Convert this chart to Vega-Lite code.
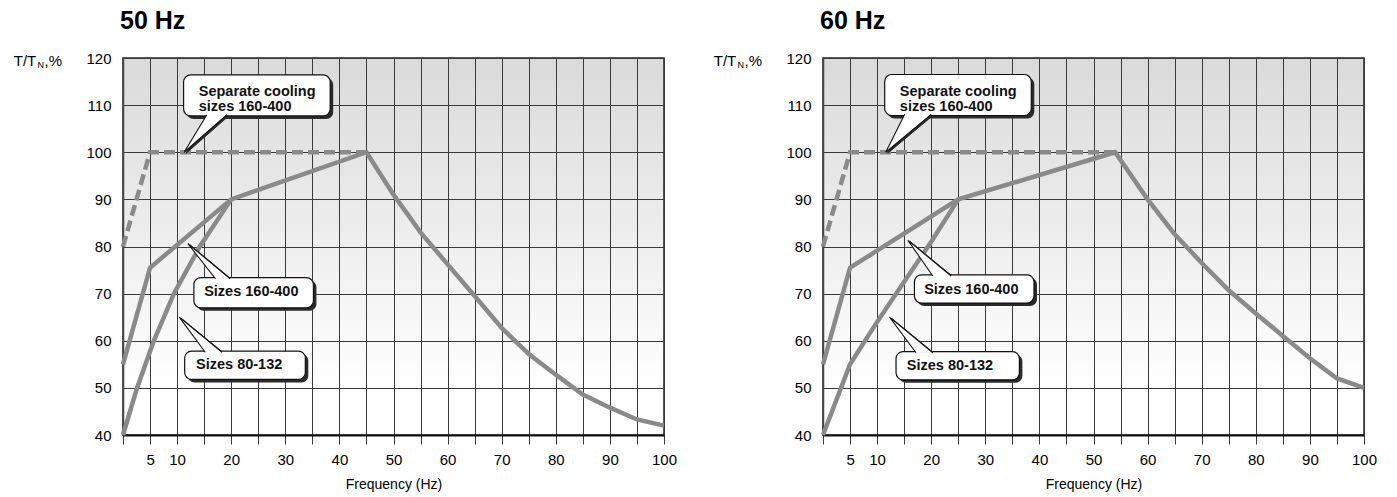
{
  "$schema": "https://vega.github.io/schema/vega-lite/v6.json",
  "background": "white",
  "padding": {"left": 12, "top": 8, "right": 5, "bottom": 5},
  "spacing": 34,
  "config": {
    "font": "Liberation Sans",
    "view": {"stroke": "#222", "strokeWidth": 1.5, "fill": {"gradient": "linear", "x1": 0, "y1": 0, "x2": 0, "y2": 1, "stops": [{"offset": 0, "color": "#dadada"}, {"offset": 0.88, "color": "#ffffff"}]}},
    "axisX": {"grid": true, "gridColor": "#3a3a3a", "gridWidth": 1, "tickColor": "#3a3a3a", "tickSize": 9, "tickWidth": 1, "domainColor": "#111", "domainWidth": 2, "labelFontSize": 15, "labelPadding": 8, "labelColor": "#000", "labelFont": "Liberation Sans", "labelFlush": false, "labelOverlap": false, "titleFont": "Liberation Sans", "titleFontSize": 14, "titleFontWeight": "normal", "titlePadding": 10, "titleColor": "#000"},
    "axisY": {"grid": true, "gridColor": "#3a3a3a", "gridWidth": 1, "ticks": false, "domainColor": "#444", "domainWidth": 1.5, "labelFontSize": 15, "labelPadding": 12, "labelColor": "#000", "labelFont": "Liberation Sans"},
    "title": {"font": "Liberation Sans", "fontSize": 25, "fontWeight": "bold", "color": "#000", "anchor": "start", "frame": "group", "offset": 17, "dx": -3}
  },
  "datasets": {
    "curves": [
      {"p": "50", "s": "cool", "f": 0, "t": 80}, {"p": "50", "s": "cool", "f": 5, "t": 100}, {"p": "50", "s": "cool", "f": 45, "t": 100},
      {"p": "50", "s": "s160", "f": 0, "t": 55}, {"p": "50", "s": "s160", "f": 5, "t": 75.5}, {"p": "50", "s": "s160", "f": 20, "t": 90}, {"p": "50", "s": "s160", "f": 45, "t": 100},
      {"p": "50", "s": "s160", "f": 50, "t": 91}, {"p": "50", "s": "s160", "f": 55, "t": 83}, {"p": "50", "s": "s160", "f": 60, "t": 76.2}, {"p": "50", "s": "s160", "f": 65, "t": 69.5},
      {"p": "50", "s": "s160", "f": 70, "t": 62.7}, {"p": "50", "s": "s160", "f": 75, "t": 57.2}, {"p": "50", "s": "s160", "f": 80, "t": 52.8}, {"p": "50", "s": "s160", "f": 85, "t": 48.6},
      {"p": "50", "s": "s160", "f": 90, "t": 45.8}, {"p": "50", "s": "s160", "f": 95, "t": 43.3}, {"p": "50", "s": "s160", "f": 100, "t": 42},
      {"p": "50", "s": "s80", "f": 0, "t": 40}, {"p": "50", "s": "s80", "f": 2.6, "t": 50}, {"p": "50", "s": "s80", "f": 5.7, "t": 60}, {"p": "50", "s": "s80", "f": 9.4, "t": 70}, {"p": "50", "s": "s80", "f": 14.2, "t": 80}, {"p": "50", "s": "s80", "f": 20, "t": 90},
      {"p": "60", "s": "cool", "f": 0, "t": 80}, {"p": "60", "s": "cool", "f": 5, "t": 100}, {"p": "60", "s": "cool", "f": 54, "t": 100},
      {"p": "60", "s": "s160", "f": 0, "t": 55}, {"p": "60", "s": "s160", "f": 5, "t": 75.5}, {"p": "60", "s": "s160", "f": 25, "t": 90}, {"p": "60", "s": "s160", "f": 54, "t": 100},
      {"p": "60", "s": "s160", "f": 60, "t": 90}, {"p": "60", "s": "s160", "f": 65, "t": 82.6}, {"p": "60", "s": "s160", "f": 70, "t": 76.5}, {"p": "60", "s": "s160", "f": 75, "t": 70.7},
      {"p": "60", "s": "s160", "f": 80, "t": 65.8}, {"p": "60", "s": "s160", "f": 85, "t": 61}, {"p": "60", "s": "s160", "f": 90, "t": 56.3}, {"p": "60", "s": "s160", "f": 95, "t": 52}, {"p": "60", "s": "s160", "f": 100, "t": 50},
      {"p": "60", "s": "s80", "f": 0, "t": 40}, {"p": "60", "s": "s80", "f": 5, "t": 55}, {"p": "60", "s": "s80", "f": 10, "t": 64}, {"p": "60", "s": "s80", "f": 15, "t": 72.5}, {"p": "60", "s": "s80", "f": 20, "t": 81}, {"p": "60", "s": "s80", "f": 25, "t": 90}
    ],
    "boxes": [
      {"p": "50", "id": "A", "f0": 11.2, "f1": 38.3, "t0": 107.7, "t1": 116.4, "lf": 14.0, "lt": 112.8, "label": "Separate cooling\nsizes 160-400"},
      {"p": "50", "id": "B", "f0": 13.1, "f1": 35.2, "t0": 67.0, "t1": 73.4, "lf": 15.0, "lt": 70.4, "label": "Sizes 160-400"},
      {"p": "50", "id": "C", "f0": 11.4, "f1": 33.7, "t0": 51.8, "t1": 57.8, "lf": 13.5, "lt": 54.9, "label": "Sizes 80-132"},
      {"p": "60", "id": "A", "f0": 11.4, "f1": 38.5, "t0": 107.8, "t1": 116.5, "lf": 14.2, "lt": 112.8, "label": "Separate cooling\nsizes 160-400"},
      {"p": "60", "id": "B", "f0": 16.9, "f1": 39.0, "t0": 68.0, "t1": 74.0, "lf": 18.7, "lt": 70.7, "label": "Sizes 160-400"},
      {"p": "60", "id": "C", "f0": 13.5, "f1": 36.3, "t0": 51.7, "t1": 57.7, "lf": 15.5, "lt": 54.7, "label": "Sizes 80-132"}
    ],
    "wedges": [
      {"p": "50", "id": "A", "k": 0, "f": 15.5, "t": 107.95}, {"p": "50", "id": "A", "k": 1, "f": 11.3, "t": 100}, {"p": "50", "id": "A", "k": 2, "f": 19.2, "t": 107.95},
      {"p": "50", "id": "B", "k": 0, "f": 17.1, "t": 73.15}, {"p": "50", "id": "B", "k": 1, "f": 12.0, "t": 80.6}, {"p": "50", "id": "B", "k": 2, "f": 19.8, "t": 73.15},
      {"p": "50", "id": "C", "k": 0, "f": 15.2, "t": 57.55}, {"p": "50", "id": "C", "k": 1, "f": 10.4, "t": 65.0}, {"p": "50", "id": "C", "k": 2, "f": 18.3, "t": 57.55},
      {"p": "60", "id": "A", "k": 0, "f": 15.1, "t": 108.05}, {"p": "60", "id": "A", "k": 1, "f": 11.6, "t": 100}, {"p": "60", "id": "A", "k": 2, "f": 20.0, "t": 108.05},
      {"p": "60", "id": "B", "k": 0, "f": 20.3, "t": 73.75}, {"p": "60", "id": "B", "k": 1, "f": 15.7, "t": 81.3}, {"p": "60", "id": "B", "k": 2, "f": 23.7, "t": 73.75},
      {"p": "60", "id": "C", "k": 0, "f": 17.2, "t": 57.45}, {"p": "60", "id": "C", "k": 1, "f": 12.3, "t": 65.0}, {"p": "60", "id": "C", "k": 2, "f": 20.3, "t": 57.45}
    ]
  },
  "hconcat": [
    {
      "width": 541, "height": 377,
      "title": {"text": "50 Hz"},
      "layer": [
        {"data": {"name": "curves"}, "transform": [{"filter": "datum.p == '50' && datum.s != 'cool'"}],
         "mark": {"type": "line", "color": "#8a8a8a", "strokeWidth": 4.5},
         "encoding": {
           "x": {"field": "f", "type": "quantitative", "scale": {"domain": [0, 100], "nice": false}, "axis": {"values": [0,5,10,15,20,25,30,35,40,45,50,55,60,65,70,75,80,85,90,95,100], "labelExpr": "(datum.value == 0 || (datum.value > 10 && datum.value % 10 == 5)) ? '' : datum.label", "title": "Frequency (Hz)"}},
           "y": {"field": "t", "type": "quantitative", "scale": {"domain": [40, 120], "nice": false, "zero": false}, "axis": {"values": [40,50,60,70,80,90,100,110,120], "title": null}},
           "detail": {"field": "s"}}},
        {"data": {"name": "curves"}, "transform": [{"filter": "datum.p == '50' && datum.s == 'cool'"}],
         "mark": {"type": "line", "color": "#8a8a8a", "strokeWidth": 4.5, "strokeDash": [11, 5]},
         "encoding": {
           "x": {"field": "f", "type": "quantitative", "scale": {"domain": [0, 100], "nice": false}, "axis": {"values": [0,5,10,15,20,25,30,35,40,45,50,55,60,65,70,75,80,85,90,95,100], "labelExpr": "(datum.value == 0 || (datum.value > 10 && datum.value % 10 == 5)) ? '' : datum.label", "title": "Frequency (Hz)"}},
           "y": {"field": "t", "type": "quantitative", "scale": {"domain": [40, 120], "nice": false, "zero": false}, "axis": {"values": [40,50,60,70,80,90,100,110,120], "title": null}}}},
        {"data": {"name": "boxes"}, "transform": [{"filter": "datum.p == '50'"}],
         "mark": {"type": "rect", "fill": "#2a2a2a", "cornerRadius": 7, "xOffset": 3, "x2Offset": 3, "yOffset": 3, "y2Offset": 3},
         "encoding": {
           "x": {"field": "f0", "type": "quantitative", "scale": {"domain": [0, 100], "nice": false}, "axis": {"values": [0,5,10,15,20,25,30,35,40,45,50,55,60,65,70,75,80,85,90,95,100], "labelExpr": "(datum.value == 0 || (datum.value > 10 && datum.value % 10 == 5)) ? '' : datum.label", "title": "Frequency (Hz)"}}, "x2": {"field": "f1"},
           "y": {"field": "t0", "type": "quantitative", "scale": {"domain": [40, 120], "nice": false, "zero": false}, "axis": {"values": [40,50,60,70,80,90,100,110,120], "title": null}}, "y2": {"field": "t1"}}},
        {"data": {"name": "wedges"}, "transform": [{"filter": "datum.p == '50'"}],
         "mark": {"type": "line", "fill": "#2a2a2a", "stroke": "#2a2a2a", "strokeWidth": 1, "xOffset": 2, "yOffset": 1},
         "encoding": {
           "x": {"field": "f", "type": "quantitative", "scale": {"domain": [0, 100], "nice": false}, "axis": {"values": [0,5,10,15,20,25,30,35,40,45,50,55,60,65,70,75,80,85,90,95,100], "labelExpr": "(datum.value == 0 || (datum.value > 10 && datum.value % 10 == 5)) ? '' : datum.label", "title": "Frequency (Hz)"}},
           "y": {"field": "t", "type": "quantitative", "scale": {"domain": [40, 120], "nice": false, "zero": false}, "axis": {"values": [40,50,60,70,80,90,100,110,120], "title": null}},
           "detail": {"field": "id"}, "order": {"field": "k"}}},
        {"data": {"name": "boxes"}, "transform": [{"filter": "datum.p == '50'"}],
         "mark": {"type": "rect", "fill": "#ffffff", "stroke": "#111", "strokeWidth": 1.2, "cornerRadius": 7},
         "encoding": {
           "x": {"field": "f0", "type": "quantitative", "scale": {"domain": [0, 100], "nice": false}, "axis": {"values": [0,5,10,15,20,25,30,35,40,45,50,55,60,65,70,75,80,85,90,95,100], "labelExpr": "(datum.value == 0 || (datum.value > 10 && datum.value % 10 == 5)) ? '' : datum.label", "title": "Frequency (Hz)"}}, "x2": {"field": "f1"},
           "y": {"field": "t0", "type": "quantitative", "scale": {"domain": [40, 120], "nice": false, "zero": false}, "axis": {"values": [40,50,60,70,80,90,100,110,120], "title": null}}, "y2": {"field": "t1"}}},
        {"data": {"name": "wedges"}, "transform": [{"filter": "datum.p == '50'"}],
         "mark": {"type": "line", "fill": "#ffffff", "stroke": "#111", "strokeWidth": 1.1},
         "encoding": {
           "x": {"field": "f", "type": "quantitative", "scale": {"domain": [0, 100], "nice": false}, "axis": {"values": [0,5,10,15,20,25,30,35,40,45,50,55,60,65,70,75,80,85,90,95,100], "labelExpr": "(datum.value == 0 || (datum.value > 10 && datum.value % 10 == 5)) ? '' : datum.label", "title": "Frequency (Hz)"}},
           "y": {"field": "t", "type": "quantitative", "scale": {"domain": [40, 120], "nice": false, "zero": false}, "axis": {"values": [40,50,60,70,80,90,100,110,120], "title": null}},
           "detail": {"field": "id"}, "order": {"field": "k"}}},
        {"data": {"name": "boxes"}, "transform": [{"filter": "datum.p == '50'"}],
         "mark": {"type": "text", "align": "left", "baseline": "middle", "fontSize": 14.5, "fontWeight": "bold", "font": "Liberation Sans", "color": "#111", "lineBreak": "\n", "lineHeight": 15},
         "encoding": {
           "x": {"field": "lf", "type": "quantitative", "scale": {"domain": [0, 100], "nice": false}, "axis": {"values": [0,5,10,15,20,25,30,35,40,45,50,55,60,65,70,75,80,85,90,95,100], "labelExpr": "(datum.value == 0 || (datum.value > 10 && datum.value % 10 == 5)) ? '' : datum.label", "title": "Frequency (Hz)"}},
           "y": {"field": "lt", "type": "quantitative", "scale": {"domain": [40, 120], "nice": false, "zero": false}, "axis": {"values": [40,50,60,70,80,90,100,110,120], "title": null}},
           "text": {"field": "label"}}},
        {"data": {"values": [{}]},
         "mark": {"type": "text", "align": "left", "baseline": "middle", "fontSize": 15, "font": "Liberation Sans", "color": "#000"},
         "encoding": {
           "x": {"datum": -20.2, "type": "quantitative", "scale": {"domain": [0, 100], "nice": false}, "axis": {"values": [0,5,10,15,20,25,30,35,40,45,50,55,60,65,70,75,80,85,90,95,100], "labelExpr": "(datum.value == 0 || (datum.value > 10 && datum.value % 10 == 5)) ? '' : datum.label", "title": "Frequency (Hz)"}},
           "y": {"datum": 119.4, "type": "quantitative", "scale": {"domain": [40, 120], "nice": false, "zero": false}, "axis": {"values": [40,50,60,70,80,90,100,110,120], "title": null}},
           "text": {"value": "T/T"}}},
        {"data": {"values": [{}]},
         "mark": {"type": "text", "align": "left", "baseline": "middle", "fontSize": 9, "font": "Liberation Sans", "color": "#000"},
         "encoding": {
           "x": {"datum": -15.8, "type": "quantitative", "scale": {"domain": [0, 100], "nice": false}, "axis": {"values": [0,5,10,15,20,25,30,35,40,45,50,55,60,65,70,75,80,85,90,95,100], "labelExpr": "(datum.value == 0 || (datum.value > 10 && datum.value % 10 == 5)) ? '' : datum.label", "title": "Frequency (Hz)"}},
           "y": {"datum": 118.6, "type": "quantitative", "scale": {"domain": [40, 120], "nice": false, "zero": false}, "axis": {"values": [40,50,60,70,80,90,100,110,120], "title": null}},
           "text": {"value": "N"}}},
        {"data": {"values": [{}]},
         "mark": {"type": "text", "align": "left", "baseline": "middle", "fontSize": 15, "font": "Liberation Sans", "color": "#000"},
         "encoding": {
           "x": {"datum": -14.5, "type": "quantitative", "scale": {"domain": [0, 100], "nice": false}, "axis": {"values": [0,5,10,15,20,25,30,35,40,45,50,55,60,65,70,75,80,85,90,95,100], "labelExpr": "(datum.value == 0 || (datum.value > 10 && datum.value % 10 == 5)) ? '' : datum.label", "title": "Frequency (Hz)"}},
           "y": {"datum": 119.4, "type": "quantitative", "scale": {"domain": [40, 120], "nice": false, "zero": false}, "axis": {"values": [40,50,60,70,80,90,100,110,120], "title": null}},
           "text": {"value": ",%"}}}
      ]
    },
    {
      "width": 541, "height": 377,
      "title": {"text": "60 Hz"},
      "layer": [
        {"data": {"name": "curves"}, "transform": [{"filter": "datum.p == '60' && datum.s != 'cool'"}],
         "mark": {"type": "line", "color": "#8a8a8a", "strokeWidth": 4.5},
         "encoding": {
           "x": {"field": "f", "type": "quantitative", "scale": {"domain": [0, 100], "nice": false}, "axis": {"values": [0,5,10,15,20,25,30,35,40,45,50,55,60,65,70,75,80,85,90,95,100], "labelExpr": "(datum.value == 0 || (datum.value > 10 && datum.value % 10 == 5)) ? '' : datum.label", "title": "Frequency (Hz)"}},
           "y": {"field": "t", "type": "quantitative", "scale": {"domain": [40, 120], "nice": false, "zero": false}, "axis": {"values": [40,50,60,70,80,90,100,110,120], "title": null}},
           "detail": {"field": "s"}}},
        {"data": {"name": "curves"}, "transform": [{"filter": "datum.p == '60' && datum.s == 'cool'"}],
         "mark": {"type": "line", "color": "#8a8a8a", "strokeWidth": 4.5, "strokeDash": [11, 5]},
         "encoding": {
           "x": {"field": "f", "type": "quantitative", "scale": {"domain": [0, 100], "nice": false}, "axis": {"values": [0,5,10,15,20,25,30,35,40,45,50,55,60,65,70,75,80,85,90,95,100], "labelExpr": "(datum.value == 0 || (datum.value > 10 && datum.value % 10 == 5)) ? '' : datum.label", "title": "Frequency (Hz)"}},
           "y": {"field": "t", "type": "quantitative", "scale": {"domain": [40, 120], "nice": false, "zero": false}, "axis": {"values": [40,50,60,70,80,90,100,110,120], "title": null}}}},
        {"data": {"name": "boxes"}, "transform": [{"filter": "datum.p == '60'"}],
         "mark": {"type": "rect", "fill": "#2a2a2a", "cornerRadius": 7, "xOffset": 3, "x2Offset": 3, "yOffset": 3, "y2Offset": 3},
         "encoding": {
           "x": {"field": "f0", "type": "quantitative", "scale": {"domain": [0, 100], "nice": false}, "axis": {"values": [0,5,10,15,20,25,30,35,40,45,50,55,60,65,70,75,80,85,90,95,100], "labelExpr": "(datum.value == 0 || (datum.value > 10 && datum.value % 10 == 5)) ? '' : datum.label", "title": "Frequency (Hz)"}}, "x2": {"field": "f1"},
           "y": {"field": "t0", "type": "quantitative", "scale": {"domain": [40, 120], "nice": false, "zero": false}, "axis": {"values": [40,50,60,70,80,90,100,110,120], "title": null}}, "y2": {"field": "t1"}}},
        {"data": {"name": "wedges"}, "transform": [{"filter": "datum.p == '60'"}],
         "mark": {"type": "line", "fill": "#2a2a2a", "stroke": "#2a2a2a", "strokeWidth": 1, "xOffset": 2, "yOffset": 1},
         "encoding": {
           "x": {"field": "f", "type": "quantitative", "scale": {"domain": [0, 100], "nice": false}, "axis": {"values": [0,5,10,15,20,25,30,35,40,45,50,55,60,65,70,75,80,85,90,95,100], "labelExpr": "(datum.value == 0 || (datum.value > 10 && datum.value % 10 == 5)) ? '' : datum.label", "title": "Frequency (Hz)"}},
           "y": {"field": "t", "type": "quantitative", "scale": {"domain": [40, 120], "nice": false, "zero": false}, "axis": {"values": [40,50,60,70,80,90,100,110,120], "title": null}},
           "detail": {"field": "id"}, "order": {"field": "k"}}},
        {"data": {"name": "boxes"}, "transform": [{"filter": "datum.p == '60'"}],
         "mark": {"type": "rect", "fill": "#ffffff", "stroke": "#111", "strokeWidth": 1.2, "cornerRadius": 7},
         "encoding": {
           "x": {"field": "f0", "type": "quantitative", "scale": {"domain": [0, 100], "nice": false}, "axis": {"values": [0,5,10,15,20,25,30,35,40,45,50,55,60,65,70,75,80,85,90,95,100], "labelExpr": "(datum.value == 0 || (datum.value > 10 && datum.value % 10 == 5)) ? '' : datum.label", "title": "Frequency (Hz)"}}, "x2": {"field": "f1"},
           "y": {"field": "t0", "type": "quantitative", "scale": {"domain": [40, 120], "nice": false, "zero": false}, "axis": {"values": [40,50,60,70,80,90,100,110,120], "title": null}}, "y2": {"field": "t1"}}},
        {"data": {"name": "wedges"}, "transform": [{"filter": "datum.p == '60'"}],
         "mark": {"type": "line", "fill": "#ffffff", "stroke": "#111", "strokeWidth": 1.1},
         "encoding": {
           "x": {"field": "f", "type": "quantitative", "scale": {"domain": [0, 100], "nice": false}, "axis": {"values": [0,5,10,15,20,25,30,35,40,45,50,55,60,65,70,75,80,85,90,95,100], "labelExpr": "(datum.value == 0 || (datum.value > 10 && datum.value % 10 == 5)) ? '' : datum.label", "title": "Frequency (Hz)"}},
           "y": {"field": "t", "type": "quantitative", "scale": {"domain": [40, 120], "nice": false, "zero": false}, "axis": {"values": [40,50,60,70,80,90,100,110,120], "title": null}},
           "detail": {"field": "id"}, "order": {"field": "k"}}},
        {"data": {"name": "boxes"}, "transform": [{"filter": "datum.p == '60'"}],
         "mark": {"type": "text", "align": "left", "baseline": "middle", "fontSize": 14.5, "fontWeight": "bold", "font": "Liberation Sans", "color": "#111", "lineBreak": "\n", "lineHeight": 15},
         "encoding": {
           "x": {"field": "lf", "type": "quantitative", "scale": {"domain": [0, 100], "nice": false}, "axis": {"values": [0,5,10,15,20,25,30,35,40,45,50,55,60,65,70,75,80,85,90,95,100], "labelExpr": "(datum.value == 0 || (datum.value > 10 && datum.value % 10 == 5)) ? '' : datum.label", "title": "Frequency (Hz)"}},
           "y": {"field": "lt", "type": "quantitative", "scale": {"domain": [40, 120], "nice": false, "zero": false}, "axis": {"values": [40,50,60,70,80,90,100,110,120], "title": null}},
           "text": {"field": "label"}}},
        {"data": {"values": [{}]},
         "mark": {"type": "text", "align": "left", "baseline": "middle", "fontSize": 15, "font": "Liberation Sans", "color": "#000"},
         "encoding": {
           "x": {"datum": -20.2, "type": "quantitative", "scale": {"domain": [0, 100], "nice": false}, "axis": {"values": [0,5,10,15,20,25,30,35,40,45,50,55,60,65,70,75,80,85,90,95,100], "labelExpr": "(datum.value == 0 || (datum.value > 10 && datum.value % 10 == 5)) ? '' : datum.label", "title": "Frequency (Hz)"}},
           "y": {"datum": 119.4, "type": "quantitative", "scale": {"domain": [40, 120], "nice": false, "zero": false}, "axis": {"values": [40,50,60,70,80,90,100,110,120], "title": null}},
           "text": {"value": "T/T"}}},
        {"data": {"values": [{}]},
         "mark": {"type": "text", "align": "left", "baseline": "middle", "fontSize": 9, "font": "Liberation Sans", "color": "#000"},
         "encoding": {
           "x": {"datum": -15.8, "type": "quantitative", "scale": {"domain": [0, 100], "nice": false}, "axis": {"values": [0,5,10,15,20,25,30,35,40,45,50,55,60,65,70,75,80,85,90,95,100], "labelExpr": "(datum.value == 0 || (datum.value > 10 && datum.value % 10 == 5)) ? '' : datum.label", "title": "Frequency (Hz)"}},
           "y": {"datum": 118.6, "type": "quantitative", "scale": {"domain": [40, 120], "nice": false, "zero": false}, "axis": {"values": [40,50,60,70,80,90,100,110,120], "title": null}},
           "text": {"value": "N"}}},
        {"data": {"values": [{}]},
         "mark": {"type": "text", "align": "left", "baseline": "middle", "fontSize": 15, "font": "Liberation Sans", "color": "#000"},
         "encoding": {
           "x": {"datum": -14.5, "type": "quantitative", "scale": {"domain": [0, 100], "nice": false}, "axis": {"values": [0,5,10,15,20,25,30,35,40,45,50,55,60,65,70,75,80,85,90,95,100], "labelExpr": "(datum.value == 0 || (datum.value > 10 && datum.value % 10 == 5)) ? '' : datum.label", "title": "Frequency (Hz)"}},
           "y": {"datum": 119.4, "type": "quantitative", "scale": {"domain": [40, 120], "nice": false, "zero": false}, "axis": {"values": [40,50,60,70,80,90,100,110,120], "title": null}},
           "text": {"value": ",%"}}}
      ]
    }
  ]
}
